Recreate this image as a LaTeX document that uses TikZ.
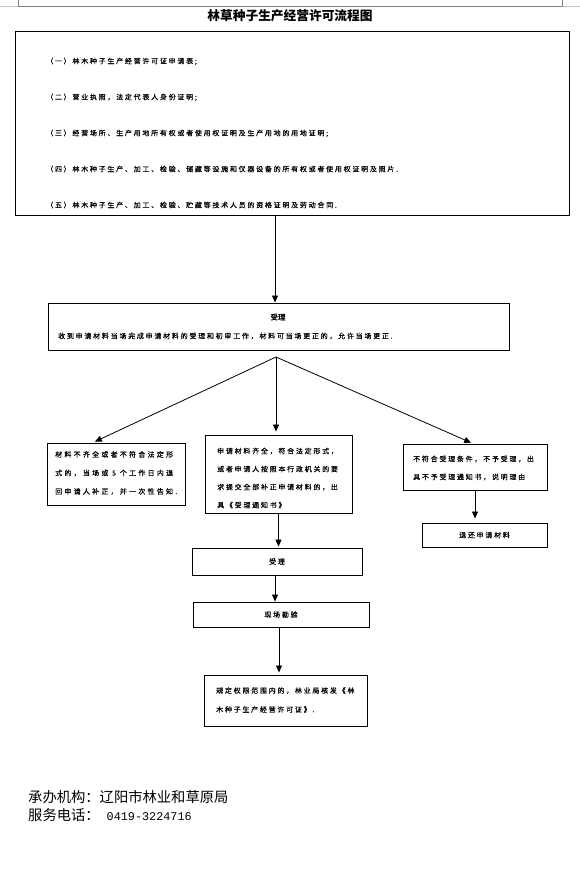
\documentclass[tikz,border=0pt]{standalone}
\usepackage{fontspec}
\usetikzlibrary{arrows.meta}
\newfontfamily\cjk{Noto Sans CJK SC}
\newfontfamily\cjkb[LetterSpace=25,FakeBold=0.5]{Noto Sans CJK SC}
\newfontfamily\cjkw[LetterSpace=32,FakeBold=0.5]{Noto Sans CJK SC}
\newfontfamily\monofam{Liberation Mono}
\tikzset{
  box/.style={draw, line width=0.9pt, inner sep=0pt},
  arr/.style={line width=0.8pt, -{Triangle[width=6pt,length=7pt]}},
  txt/.style={inner sep=0pt, anchor=west, align=left},
  small/.style={font=\cjkb\fontsize{7}{18}\selectfont},
}
\begin{document}
\begin{tikzpicture}[x=1pt,y=-1pt]
\useasboundingbox (0,0) rectangle (580,888);
\fill[white] (0,0) rectangle (580,888);
% page header marks
\draw[gray!45, line width=0.6pt] (0,6.5) -- (580,6.5);
\draw[gray, line width=0.8pt] (18,0) -- (18,6.5) -- (562,6.5) -- (562,0);

\node[font=\cjk\bfseries\fontsize{12.7}{14}\selectfont] (title) at (290,16) {林草种子生产经营许可流程图};

% requirements box
\node[box, minimum width=554pt, minimum height=184pt] (req) at (292,123) {};
\node[txt, font=\cjkb\fontsize{7}{36}\selectfont] (reqtext) at (46,133) {（一）林木种子生产经营许可证申请表;\\
（二）营业执照，法定代表人身份证明;\\
（三）经营场所、生产用地所有权或者使用权证明及生产用地的用地证明;\\
（四）林木种子生产、加工、检验、储藏等设施和仪器设备的所有权或者使用权证明及照片.\\
（五）林木种子生产、加工、检验、贮藏等技术人员的资格证明及劳动合同.};

% acceptance box
\node[box, minimum width=461pt, minimum height=47pt] (acc) at (278.5,326.5) {};
\node[font=\cjk\bfseries\fontsize{7.5}{9}\selectfont, inner sep=0pt] (acct) at (278,318) {受理};
\node[txt, small] (accd) at (58,336) {收到申请材料当场完成申请材料的受理和初审工作，材料可当场更正的，允许当场更正.};

% three branches
\node[box, minimum width=138pt, minimum height=62pt] (lbox) at (116,474) {};
\node[txt, font=\cjkw\fontsize{7}{18.5}\selectfont] (ltext) at (55,473) {材料不齐全或者不符合法定形\\式的，当场或 5 个工作日内退\\回申请人补正，并一次性告知.};

\node[box, minimum width=147pt, minimum height=78pt] (mbox) at (278.5,474) {};
\node[txt, small] (mtext) at (217,478) {申请材料齐全，符合法定形式，\\或者申请人按照本行政机关的要\\求提交全部补正申请材料的，出\\具《受理通知书》};

\node[box, minimum width=144pt, minimum height=46pt] (rbox) at (475,467) {};
\node[txt, small] (rtext) at (413,468) {不符合受理条件，不予受理，出\\具不予受理通知书，说明理由};

\node[box, small, minimum width=125pt, minimum height=24pt] (ret) at (484.5,535) {退还申请材料};

\node[box, small, minimum width=170pt, minimum height=27pt] (sl2) at (277,561.5) {受理};
\node[box, small, minimum width=176pt, minimum height=25pt] (kc) at (281,614.5) {现场勘验};

\node[box, minimum width=163pt, minimum height=51pt] (fin) at (286,700.5) {};
\node[txt, font=\cjkb\fontsize{7}{19}\selectfont] (ftext) at (216,700) {规定权限范围内的，林业局核发《林\\木种子生产经营许可证》.};

% footer
\node[txt, font=\cjk\fontsize{14.3}{16}\selectfont] (org) at (28,797) {承办机构：辽阳市林业和草原局};
\node[txt, font=\cjk\fontsize{14.3}{16}\selectfont] (tel) at (28,815) {服务电话：\hspace{7pt}{\monofam\fontsize{11.8}{14}\selectfont 0419-3224716}};

% connectors
\coordinate (fan) at (276,357);
\draw[arr] ([xshift=-17pt]req.south) -- ([xshift=-3.5pt]acc.north);
\draw[arr, shorten >=2pt] (fan) -- ([xshift=-23pt]lbox.north);
\draw[arr, shorten >=3pt] (fan) -- (fan |- mbox.north);
\draw[arr, shorten >=2pt] (fan) -- ([xshift=-2pt]rbox.north);
\draw[arr, shorten >=4pt] (rbox.south) -- (rbox.south |- ret.north);
\draw[arr, shorten >=1pt] (mbox.south) -- (mbox.south |- sl2.north);
\draw[arr] ([xshift=-2pt]sl2.south) -- ([xshift=-2pt]sl2.south |- kc.north);
\draw[arr, shorten >=2pt] ([xshift=-2pt]kc.south) -- ([xshift=-2pt]kc.south |- fin.north);
\end{tikzpicture}
\end{document}
